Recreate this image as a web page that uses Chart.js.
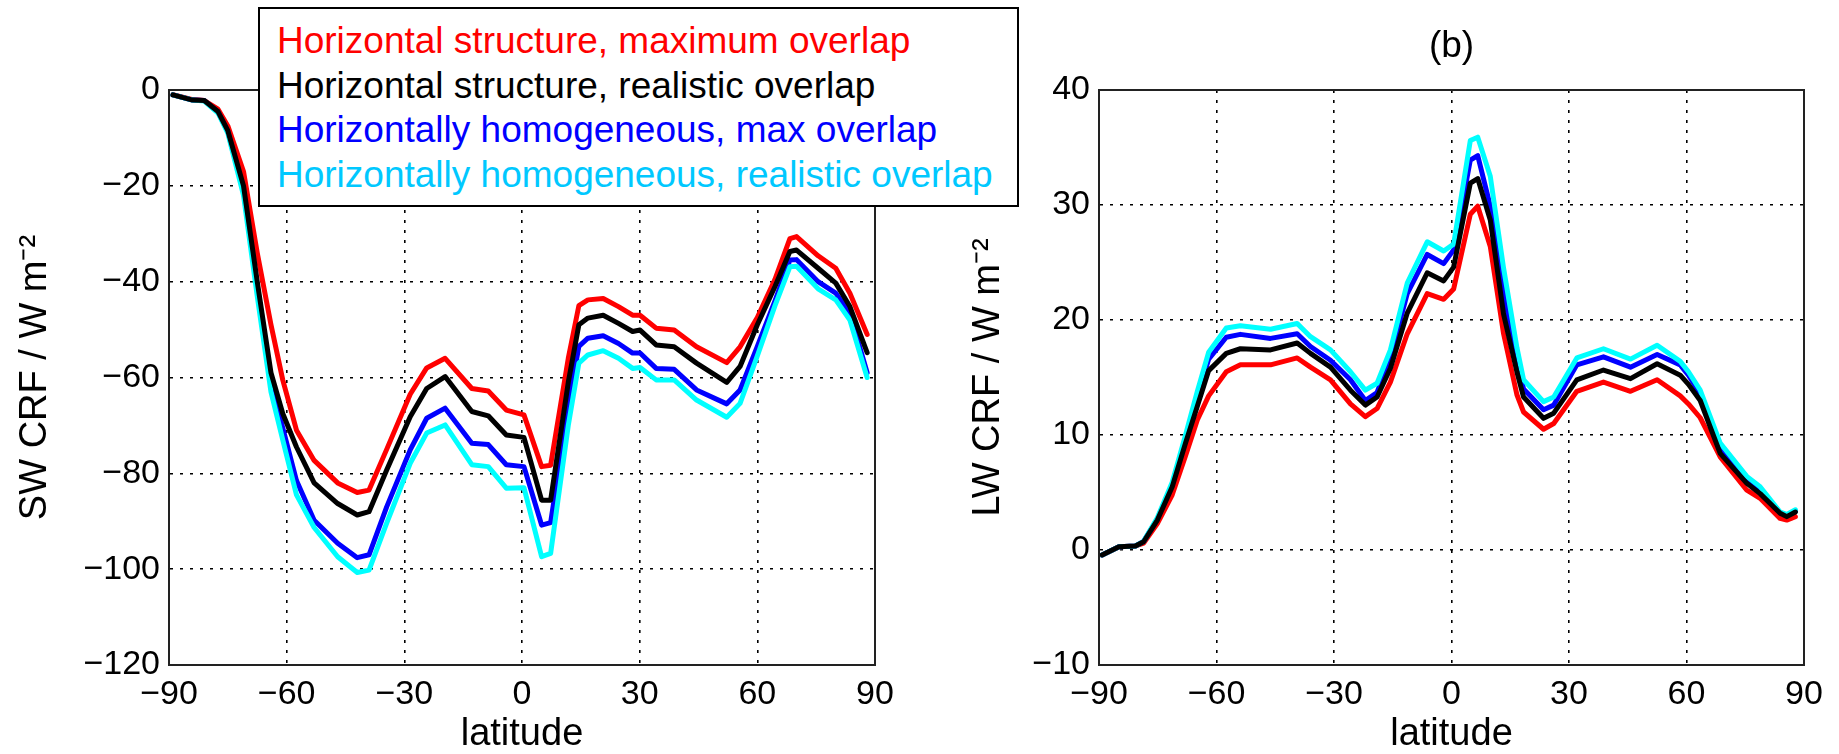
<!DOCTYPE html>
<html>
<head>
<meta charset="utf-8">
<script src="https://cdn.jsdelivr.net/npm/chart.js@4.4.0/dist/chart.umd.min.js"></script>
<style>
  html, body { margin: 0; padding: 0; background: #fff; }
  body { width: 1839px; height: 754px; position: relative; overflow: hidden;
         font-family: "Liberation Sans", Arial, sans-serif; }
  #g-sw { position: absolute; left: 0; top: 0; }
  #g-lw { position: absolute; left: 930px; top: 0; }
  #leyenda { position: absolute; left: 258px; top: 7px; width: 761px; height: 200px;
             box-sizing: border-box; border: 2px solid #000; background: #fff;
             padding: 10px 0 0 17px; font-size: 37px; line-height: 44.5px; white-space: nowrap; }
</style>
</head>
<body>
<canvas id="g-sw" width="930" height="754"></canvas>
<canvas id="g-lw" width="909" height="754"></canvas>
<div id="leyenda"></div>
<script>
// series names / colours (legend order)
var nombres = ['Horizontal structure, maximum overlap', 'Horizontal structure, realistic overlap',
               'Horizontally homogeneous, max overlap', 'Horizontally homogeneous, realistic overlap'];
var colores = ['#ff0000', '#000000', '#0000ff', '#00ffff'];
var coloresTexto = ['#ff0000', '#000000', '#0000ff', '#00c8ff'];

// (a) SW CRF
var latSW = [-89, -84, -81, -77.5, -75, -71, -67.5, -64, -61, -57.5, -53, -47, -42, -39, -34.5, -28.5, -24.3, -19.6, -12.8, -8.6,
             -4, 0.5, 5, 7.3, 11.8, 14.5, 16.8, 20.7, 24.6, 28.2, 30.1, 34.2, 38.8, 44.5, 52.2, 55.6, 60, 64.5, 68.3, 70,
             75.5, 80, 83.6, 88];
var swRed   = [-1, -2, -2.2, -4, -7.5, -17, -34, -49, -60.5, -71, -77.3, -82, -84, -83.5, -75, -63.5, -58, -56, -62.3, -62.8,
               -66.8, -67.8, -78.6, -78.3, -56, -45, -43.8, -43.5, -45.2, -47, -47, -49.7, -50.1, -53.6, -56.9, -53.6, -47.5, -39.5, -31, -30.6,
               -34.6, -37.2, -42.4, -51];
var swBlack = [-1, -2.1, -2.2, -4.5, -8.5, -20, -40, -59, -67.5, -74.5, -82, -86.3, -88.7, -88, -79.3, -68.2, -62.3, -59.8, -67.1, -68,
               -72, -72.5, -85.6, -85.6, -61, -49, -47.6, -47, -48.7, -50.4, -50.1, -53.2, -53.6, -57, -61, -57.7, -49, -41, -33.7, -33.4,
               -37.2, -40.3, -45.2, -54.8];
var swBlue  = [-1, -2.1, -2.2, -4.6, -8.7, -21, -41, -61, -70.5, -81.5, -89.8, -94.6, -97.6, -97, -87, -75.1, -68.5, -66.4, -73.7, -74,
               -78.2, -78.6, -90.8, -90.3, -66, -53.5, -51.8, -51.3, -52.9, -54.9, -54.9, -58.1, -58.3, -62.6, -65.5, -62.6, -53.5, -44, -35.5, -35.4,
               -40, -42.4, -46.6, -59];
var swCyan  = [-1, -2.1, -2.3, -4.8, -9, -22, -43, -63, -73, -84.5, -91.3, -97.4, -100.7, -100.2, -90.4, -77.9, -71.6, -69.9, -78.2, -78.6,
               -83.1, -83, -97.4, -96.7, -70, -57, -55.3, -54.4, -56, -58.1, -57.9, -60.5, -60.5, -64.7, -68.3, -65.4, -55.5, -45, -36.9, -36.8,
               -41.5, -43.8, -48, -60];

// (b) LW CRF
var latLW = [-89.2, -84.9, -80.7, -78.6, -75.1, -71.3, -67.9, -64.9, -62, -57.5, -53.9, -46.2, -39.4, -36, -30.9, -25.8, -22, -19, -15.6, -11.3,
             -6.2, -2, 0.55, 4.8, 6.7, 9.9, 13.3, 16.7, 18.4, 23.5, 26.1, 32, 38.8, 45.7, 52.5, 58.4, 60.5, 63.5, 68.6, 75.4,
             78.8, 83.9, 85.6, 87.8];
var lwRed   = [-0.43, 0.29, 0.35, 0.6, 2.3, 4.8, 8.2, 11.3, 13.4, 15.5, 16.1, 16.1, 16.7, 15.9, 14.8, 12.7, 11.6, 12.3, 14.6, 18.8,
               22.3, 21.8, 22.7, 29.2, 29.9, 26.4, 18.8, 13.5, 12, 10.5, 11, 13.8, 14.6, 13.8, 14.8, 13.4, 12.7, 11.5, 8.1, 5.2,
               4.5, 2.75, 2.6, 2.9];
var lwBlack = [-0.43, 0.29, 0.35, 0.72, 2.6, 5.5, 9.3, 12.5, 15.6, 17.1, 17.5, 17.4, 18, 17.1, 15.9, 13.9, 12.6, 13.3, 15.8, 20.6,
               24.1, 23.4, 24.6, 31.9, 32.3, 28.7, 20.5, 15.5, 13.3, 11.45, 11.9, 14.8, 15.65, 14.9, 16.2, 15.2, 14.4, 13, 8.4, 5.8,
               4.9, 3.2, 2.9, 3.3];
var lwBlue  = [-0.43, 0.29, 0.35, 0.75, 2.7, 5.7, 9.7, 13.3, 16.6, 18.5, 18.75, 18.4, 18.8, 17.7, 16.5, 14.8, 13, 13.7, 16.8, 22.3,
               25.7, 24.9, 26.1, 33.9, 34.3, 29.9, 22.5, 16.6, 14, 12.2, 12.6, 16.1, 16.8, 15.9, 17, 16.1, 15.2, 13.6, 8.7, 6.1,
               5.2, 3.25, 3, 3.4];
var lwCyan  = [-0.43, 0.29, 0.35, 0.75, 2.8, 5.9, 10, 13.8, 17.2, 19.3, 19.5, 19.2, 19.7, 18.55, 17.4, 15.5, 13.9, 14.5, 17.4, 23.2,
               26.8, 26, 26.6, 35.6, 35.9, 32.5, 24.5, 17.6, 14.8, 12.9, 13.3, 16.7, 17.5, 16.6, 17.8, 16.4, 15.5, 13.9, 9.3, 6.4,
               5.5, 3.3, 3.1, 3.5];

var ordenes = [3, 0, 2, 1]; // black on top, as in the figure
var fuente = '"Liberation Sans", Arial, sans-serif';
Chart.defaults.font.family = fuente;
Chart.defaults.color = '#000';

function menos(v) { return v < 0 ? '\u2212' + Math.abs(v) : String(v); }

// box around the axes (matlab style)
var marco = {
  id: 'marco',
  afterDraw: function (chart) {
    var a = chart.chartArea, c = chart.ctx;
    c.save();
    c.strokeStyle = '#222';
    c.lineWidth = 2;
    c.strokeRect(a.left, a.top, a.right - a.left, a.bottom - a.top);
    c.restore();
  }
};
// panel title centred over the axes
var tituloPanel = {
  id: 'tituloPanel',
  afterDraw: function (chart, args, opts) {
    if (!opts.text) return;
    var a = chart.chartArea, c = chart.ctx;
    c.save();
    c.font = '37px ' + fuente;
    c.fillStyle = '#000';
    c.textAlign = 'center';
    c.textBaseline = 'middle';
    c.fillText(opts.text, (a.left + a.right) / 2, opts.y);
    c.restore();
  }
};

function grafico(id, lat, series, yMin, yMax, yStep, yTitulo, yPad, derecha, titulo) {
  var idhtml = document.getElementById(id).getContext('2d');
  return new Chart(idhtml, {
    type: 'line',
    data: {
      datasets: series.map(function (s, i) {
        return {
          label: nombres[i],
          data: s.map(function (v, j) { return { x: lat[j], y: v }; }),
          borderColor: colores[i],
          backgroundColor: colores[i],
          borderWidth: 5,
          pointRadius: 0,
          tension: 0,
          fill: false,
          order: ordenes[i],
          borderJoinStyle: 'round',
          borderCapStyle: 'round'
        };
      })
    },
    options: {
      responsive: false,
      animation: false,
      layout: { padding: { left: 0, right: derecha, top: 90, bottom: 0 } },
      plugins: {
        legend: { display: false },
        tooltip: { enabled: false },
        tituloPanel: { text: titulo, y: 47 }
      },
      scales: {
        x: {
          type: 'linear', min: -90, max: 90,
          ticks: { stepSize: 30, padding: 9, font: { size: 34 }, maxRotation: 0, autoSkip: false, callback: menos },
          grid: { color: '#000', lineWidth: 1.6, drawTicks: false },
          border: { display: true, color: '#222', width: 2, dash: [3, 7] },
          title: { display: true, text: 'latitude', font: { size: 38, lineHeight: 1 }, padding: { top: 0, bottom: 0 } },
          afterFit: function (s) { s.height = 89; }
        },
        y: {
          type: 'linear', min: yMin, max: yMax,
          ticks: { stepSize: yStep, padding: 9, font: { size: 34 }, callback: menos },
          grid: { color: '#000', lineWidth: 1.6, drawTicks: false },
          border: { display: true, color: '#222', width: 2, dash: [3, 7] },
          title: { display: true, text: yTitulo, font: { size: 38, lineHeight: 1 }, padding: { top: yPad, bottom: 0 } },
          afterFit: function (s) { s.width = 169; }
        }
      }
    },
    plugins: [marco, tituloPanel]
  });
}

var g_sw = grafico('g-sw', latSW, [swRed, swBlack, swBlue, swCyan], -120, 0, 20, 'SW CRF / W m\u207B\u00B2', 17, 55, '');
var g_lw = grafico('g-lw', latLW, [lwRed, lwBlack, lwBlue, lwCyan], -10, 40, 10, 'LW CRF / W m\u207B\u00B2', 40, 35, '(b)');

// legend box built from the series
var leyenda = document.getElementById('leyenda');
nombres.forEach(function (n, i) {
  var d = document.createElement('div');
  d.textContent = n;
  d.style.color = coloresTexto[i];
  leyenda.appendChild(d);
});
</script>
</body>
</html>
